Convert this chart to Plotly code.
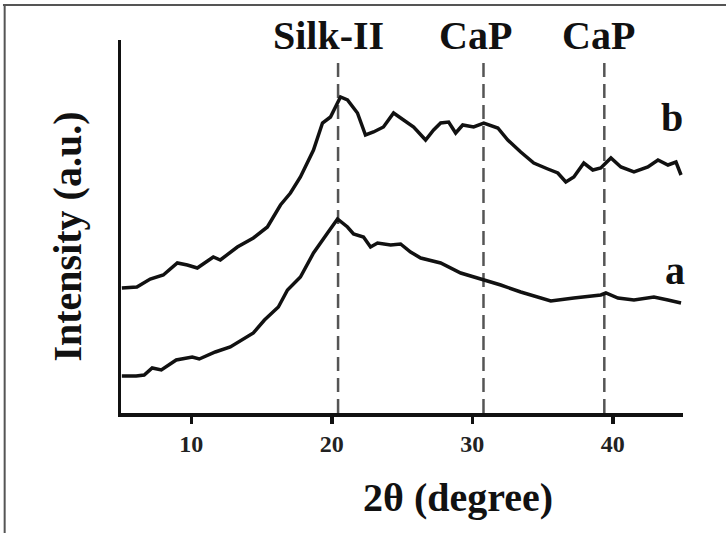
import plotly.graph_objects as go

# 2-theta (degree) and intensity (a.u.)
two_theta_a = [5.06, 6.08, 6.65, 7.22, 7.87, 8.93, 10.07, 10.57, 11.71, 12.78, 14.42, 15.21,
               16.2, 16.85, 17.77, 18.70, 19.70, 20.41, 21.12, 21.55, 22.26, 22.76, 23.26,
               24.19, 24.90, 25.61, 26.33, 27.75, 29.18, 30.60, 32.03, 33.45, 34.88, 35.59,
               37.23, 39.15, 39.51, 40.37, 41.51, 42.93, 43.93, 44.86]
intensity_a = [37, 37, 38, 45, 43, 53, 56, 54, 61, 66, 80, 93,
               106, 123, 136, 160, 180, 194, 186, 179, 176, 166, 170,
               168, 169, 161, 155, 150, 140, 134, 128, 121, 115, 112,
               115, 118, 120, 115, 113, 116, 113, 110]

two_theta_b = [5.06, 6.13, 7.08, 8.01, 9.01, 9.72, 10.43, 11.57, 12.07, 13.28, 14.42, 15.42,
               16.35, 17.06, 17.77, 18.70, 19.34, 19.91, 20.62, 21.12, 21.83, 22.40, 22.97,
               23.68, 24.40, 25.11, 25.83, 26.68, 27.25, 27.75, 28.32, 28.82, 29.32, 30.10,
               30.82, 31.82, 32.53, 33.45, 34.38, 35.38, 36.09, 36.66, 37.23, 37.94, 38.58,
               39.15, 39.87, 40.58, 41.51, 42.50, 43.22, 43.93, 44.50, 44.86]
intensity_b = [125, 126, 134, 138, 150, 148, 145, 156, 153, 166, 175, 186,
               208, 220, 236, 263, 290, 296, 316, 313, 300, 278, 281,
               286, 300, 293, 286, 273, 283, 290, 291, 280, 288, 286,
               290, 285, 273, 261, 250, 244, 240, 231, 236, 250, 243,
               245, 255, 246, 241, 246, 253, 248, 251, 238]

peak_positions = [20.45, 30.8, 39.4]
peak_labels = ["Silk-II", "CaP", "CaP"]
peak_label_x = [19.75, 30.25, 39.0]
x_ticks = [10, 20, 30, 40]

FONT = "Liberation Serif"
X0, X1 = 5, 45

fig = go.Figure()
fig.add_trace(go.Scatter(x=two_theta_a, y=intensity_a, mode="lines",
                         line=dict(color="#111111", width=3.5), showlegend=False,
                         hoverinfo="skip"))
fig.add_trace(go.Scatter(x=two_theta_b, y=intensity_b, mode="lines",
                         line=dict(color="#111111", width=3.5), showlegend=False,
                         hoverinfo="skip"))

for p in peak_positions:
    fig.add_shape(type="line", xref="x", yref="y", x0=p, x1=p, y0=0, y1=355,
                  line=dict(color="#555555", width=2.5, dash="14px,7px"), layer="below")

for lx, lab in zip(peak_label_x, peak_labels):
    fig.add_annotation(x=(lx - X0) / (X1 - X0), y=1.013, xref="paper", yref="paper",
                       text="<b>%s</b>" % lab,
                       showarrow=False, font=dict(family=FONT, size=40, color="#111111"),
                       xanchor="center", yanchor="middle")

fig.add_annotation(x=44.2, y=296, xref="x", yref="y", text="<b>b</b>", showarrow=False,
                   font=dict(family=FONT, size=40, color="#111111"))
fig.add_annotation(x=44.4, y=143, xref="x", yref="y", text="<b>a</b>", showarrow=False,
                   font=dict(family=FONT, size=40, color="#111111"))

fig.add_annotation(x=-0.095, y=0.472, xref="paper", yref="paper", text="<b>Intensity (a.u.)</b>",
                   textangle=-90, showarrow=False, font=dict(family=FONT, size=40, color="#111111"),
                   xanchor="center", yanchor="middle")
fig.add_annotation(x=0.6, y=-0.226, xref="paper", yref="paper", text="<b>2θ (degree)</b>",
                   showarrow=False, font=dict(family=FONT, size=40, color="#111111"),
                   xanchor="center", yanchor="middle")

# outer frame
fig.add_shape(type="line", xref="paper", yref="paper", x0=-0.21, x1=1.08, y0=1.094, y1=1.094,
              line=dict(color="#555555", width=2))
fig.add_shape(type="line", xref="paper", yref="paper", x0=-0.207, x1=-0.207, y0=-0.35, y1=1.094,
              line=dict(color="#555555", width=2))

fig.update_xaxes(range=[X0, X1], showline=True, linecolor="#111111", linewidth=3.5,
                 ticks="outside", ticklen=7, tickwidth=3.5, tickcolor="#111111",
                 tickvals=x_ticks, ticktext=["<b>%d</b>" % t for t in x_ticks],
                 tickfont=dict(family=FONT, size=24, color="#222222"),
                 showgrid=False, zeroline=False, mirror=False)
fig.update_yaxes(range=[0, 373], showline=True, linecolor="#111111", linewidth=3.5,
                 showticklabels=False, ticks="", showgrid=False, zeroline=False)

fig.update_layout(width=726, height=533, margin=dict(l=121, r=43, t=40, b=120),
                  plot_bgcolor="white", paper_bgcolor="white", hovermode=False)

fig.write_html("out.html", config={"displayModeBar": False, "staticPlot": True},
               post_script="document.body.style.margin='0';document.body.style.overflow='hidden';")
